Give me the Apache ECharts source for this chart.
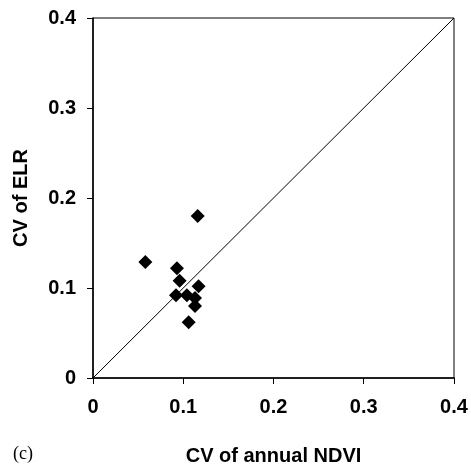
<!DOCTYPE html>
<html>
<head>
<meta charset="utf-8">
<script src="https://cdn.jsdelivr.net/npm/echarts@6/dist/echarts.min.js"></script>
<style>
  html, body { margin: 0; padding: 0; background: #fff; }
  #chart { width: 471px; height: 471px; }
</style>
</head>
<body>
<div id="chart"></div>
<script>
// CV of annual NDVI (x) vs CV of ELR (y)
var cvNdvi = [0.058, 0.093, 0.096, 0.092, 0.104, 0.113, 0.113, 0.117, 0.106, 0.116];
var cvElr  = [0.129, 0.122, 0.108, 0.092, 0.092, 0.089, 0.080, 0.102, 0.062, 0.180];
// 1:1 line
var oneToOne = [[0, 0], [0.4, 0.4]];
var tickValues = [0, 0.1, 0.2, 0.3, 0.4];

var points = cvNdvi.map(function (x, i) { return [x, cvElr[i]]; });

var chart = echarts.init(document.getElementById('chart'));

var labelStyle = {
    color: '#000',
    fontFamily: 'Liberation Sans, Arial, sans-serif',
    fontWeight: 'bold',
    fontSize: 20,
    formatter: function (v) { return v === 0 ? '0' : v.toFixed(1); }
};
var nameStyle = {
    color: '#000',
    fontFamily: 'Liberation Sans, Arial, sans-serif',
    fontWeight: 'bold',
    fontSize: 20
};

var option = {
    animation: false,
    grid: {
        left: 93, right: 17, top: 18, bottom: 92,
        show: true,
        borderColor: '#000',
        borderWidth: 1
    },
    xAxis: {
        type: 'value',
        min: 0, max: 0.4, interval: 0.1,
        name: 'CV of annual NDVI',
        nameLocation: 'middle',
        nameGap: 68,
        nameTextStyle: nameStyle,
        axisLine: { lineStyle: { color: '#000', width: 1.5 } },
        axisTick: { show: true, length: 6, lineStyle: { color: '#000' } },
        axisLabel: Object.assign({ margin: 19 }, labelStyle),
        splitLine: { show: false }
    },
    yAxis: {
        type: 'value',
        min: 0, max: 0.4, interval: 0.1,
        name: 'CV of ELR',
        nameLocation: 'middle',
        nameGap: 62,
        nameTextStyle: nameStyle,
        axisLine: { lineStyle: { color: '#000', width: 1.5 } },
        axisTick: { show: true, length: 6, lineStyle: { color: '#000' } },
        axisLabel: Object.assign({ margin: 17 }, labelStyle),
        splitLine: { show: false }
    },
    graphic: [{
        type: 'text',
        left: 13,
        top: 445,
        style: {
            text: '(c)',
            fill: '#000',
            font: '18px "Liberation Serif", "DejaVu Serif", serif'
        }
    }],
    series: [
        {
            type: 'line',
            data: oneToOne,
            symbol: 'none',
            lineStyle: { color: '#000', width: 1 },
            silent: true
        },
        {
            type: 'scatter',
            data: points,
            symbol: 'diamond',
            symbolSize: 14,
            itemStyle: { color: '#000', opacity: 1 }
        }
    ]
};

chart.setOption(option);
</script>
</body>
</html>
